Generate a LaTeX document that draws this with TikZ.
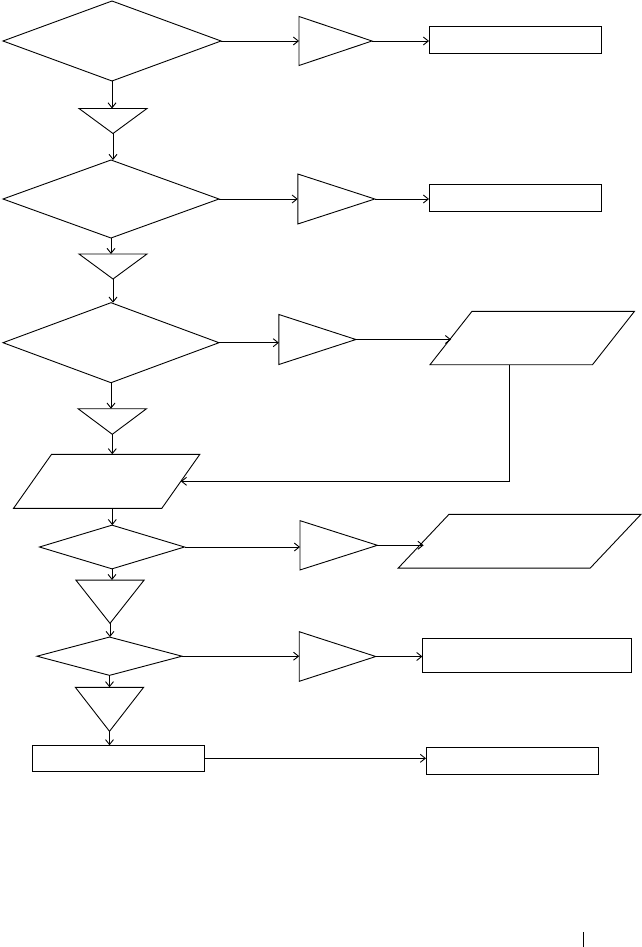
\documentclass[tikz,border=0pt]{standalone}
\usetikzlibrary{arrows.meta,calc}
\begin{document}
\begin{tikzpicture}[x=1pt,y=-1pt,
  shp/.style={draw=none,inner sep=0pt,outer sep=0pt,minimum width=#1},
  outl/.style={draw=black,line width=0.9pt,line join=miter},
  arr/.style={draw=black,line width=0.9pt,-{Straight Barb[length=5pt,width=8pt]}},
  ln/.style={draw=black,line width=0.9pt}]
\useasboundingbox (0,0) rectangle (642,947);
% helper macros for outlines
\newcommand{\dia}[1]{\draw[outl] (#1.west) -- (#1.north) -- (#1.east) -- (#1.south) -- cycle;}
\newcommand{\rtri}[1]{\draw[outl] (#1.north west) -- (#1.east) -- (#1.south west) -- cycle;}
\newcommand{\dtri}[1]{\draw[outl] (#1.north west) -- (#1.north east) -- (#1.south) -- cycle;}
\newcommand{\rbox}[1]{\draw[outl] (#1.north west) rectangle (#1.south east);}
\newcommand{\para}[2]{\draw[outl] ($(#1.north west)+(#2,0)$) -- (#1.north east) -- ($(#1.south east)-(#2,0)$) -- (#1.south west) -- cycle;}

% nodes
\node[shp=218,minimum height=80] (d1) at (112,41) {};
\node[shp=73,minimum height=49] (t1) at (335.5,41) {};
\node[shp=172,minimum height=27] (r1) at (515,40) {};
\node[shp=68,minimum height=25] (dt1) at (113,121) {};
\node[shp=216,minimum height=78] (d2) at (111,199) {};
\node[shp=77,minimum height=50] (t2) at (336.3,199) {};
\node[shp=172,minimum height=27] (r2) at (515,198) {};
\node[shp=68,minimum height=25] (dt2) at (113,266.5) {};
\node[shp=216,minimum height=80] (d3) at (111,342.7) {};
\node[shp=77,minimum height=50] (t3) at (317.4,339.5) {};
\node[shp=204.5,minimum height=53.4] (p1) at (532.25,338) {};
\node[shp=68.5,minimum height=25.6] (dt3) at (112.3,421.5) {};
\node[shp=186.3,minimum height=54] (p2) at (106.7,481.3) {};
\node[shp=145,minimum height=43.7] (d4) at (112,547) {};
\node[shp=77.4,minimum height=49.3] (t4) at (338.7,545.3) {};
\node[shp=242.7,minimum height=53.7] (p3) at (519.6,541.2) {};
\node[shp=68.3,minimum height=43.3] (dt4) at (110,601.7) {};
\node[shp=145,minimum height=38.3] (d5) at (109.5,656.2) {};
\node[shp=76.6,minimum height=49.6] (t5) at (337.5,656.5) {};
\node[shp=208.8,minimum height=34] (r3) at (526.8,655.3) {};
\node[shp=68.3,minimum height=44] (dt5) at (109.5,709.3) {};
\node[shp=172,minimum height=26] (r4) at (118.3,758.3) {};
\node[shp=172.4,minimum height=26.7] (r5) at (512.2,760.7) {};

% outlines
\dia{d1} \rtri{t1} \rbox{r1} \dtri{dt1}
\dia{d2} \rtri{t2} \rbox{r2} \dtri{dt2}
\dia{d3} \rtri{t3} \para{p1}{42} \dtri{dt3}
\para{p2}{38}
\dia{d4} \rtri{t4} \para{p3}{50.7} \dtri{dt4}
\dia{d5} \rtri{t5} \rbox{r3} \dtri{dt5}
\rbox{r4} \rbox{r5}

% helper coordinates on slanted edges
\coordinate (p1l) at ($(p1.west)+(21,0)$);
\coordinate (p1b) at (509,0);
\coordinate (p2r) at ($(p2.east)-(19,0)$);
\coordinate (p3l) at ($(p3.west)+(25.35,0)$);
\coordinate (mk1) at (583,932);
\coordinate (mk2) at (583,947);

% connectors
\draw[arr] (d1.east) -- (d1.east -| t1.west);
\draw[arr] (t1.east) -- (t1.east -| r1.west);
\draw[arr] (d1.south) -- (d1.south |- dt1.north);
\draw[arr] (dt1.south) -- (dt1.south |- d2.north);
\draw[arr] (d2.east) -- (d2.east -| t2.west);
\draw[arr] (t2.east) -- (t2.east -| r2.west);
\draw[arr] (d2.south) -- (d2.south |- dt2.north);
\draw[arr] (dt2.south) -- (dt2.south |- d3.north);
\draw[arr] (d3.east) -- (d3.east -| t3.west);
\draw[arr] (t3.east) -- (t3.east -| p1l);
\draw[arr] (d3.south) -- (d3.south |- dt3.north);
\draw[arr] (dt3.south) -- (dt3.south |- p2.north);
\draw[arr] (p1b |- p1.south) -- (p1b |- p2r) -- (p2r);
\draw[arr] (dt3.south |- p2.south) -- (dt3.south |- d4.north);
\draw[arr] (d4.east) -- (d4.east -| t4.west);
\draw[arr] (t4.east) -- (t4.east -| p3l);
\draw[arr] (d4.south) -- (d4.south |- dt4.north);
\draw[arr] (dt4.south) -- (dt4.south |- d5.north);
\draw[arr] (d5.east) -- (d5.east -| t5.west);
\draw[arr] (t5.east) -- (t5.east -| r3.west);
\draw[arr] (d5.south) -- (d5.south |- dt5.north);
\draw[arr] (dt5.south) -- (dt5.south |- r4.north);
\draw[arr] (r4.east) -- (r4.east -| r5.west);
\draw[ln] (mk1) -- (mk2);
\end{tikzpicture}
\end{document}
